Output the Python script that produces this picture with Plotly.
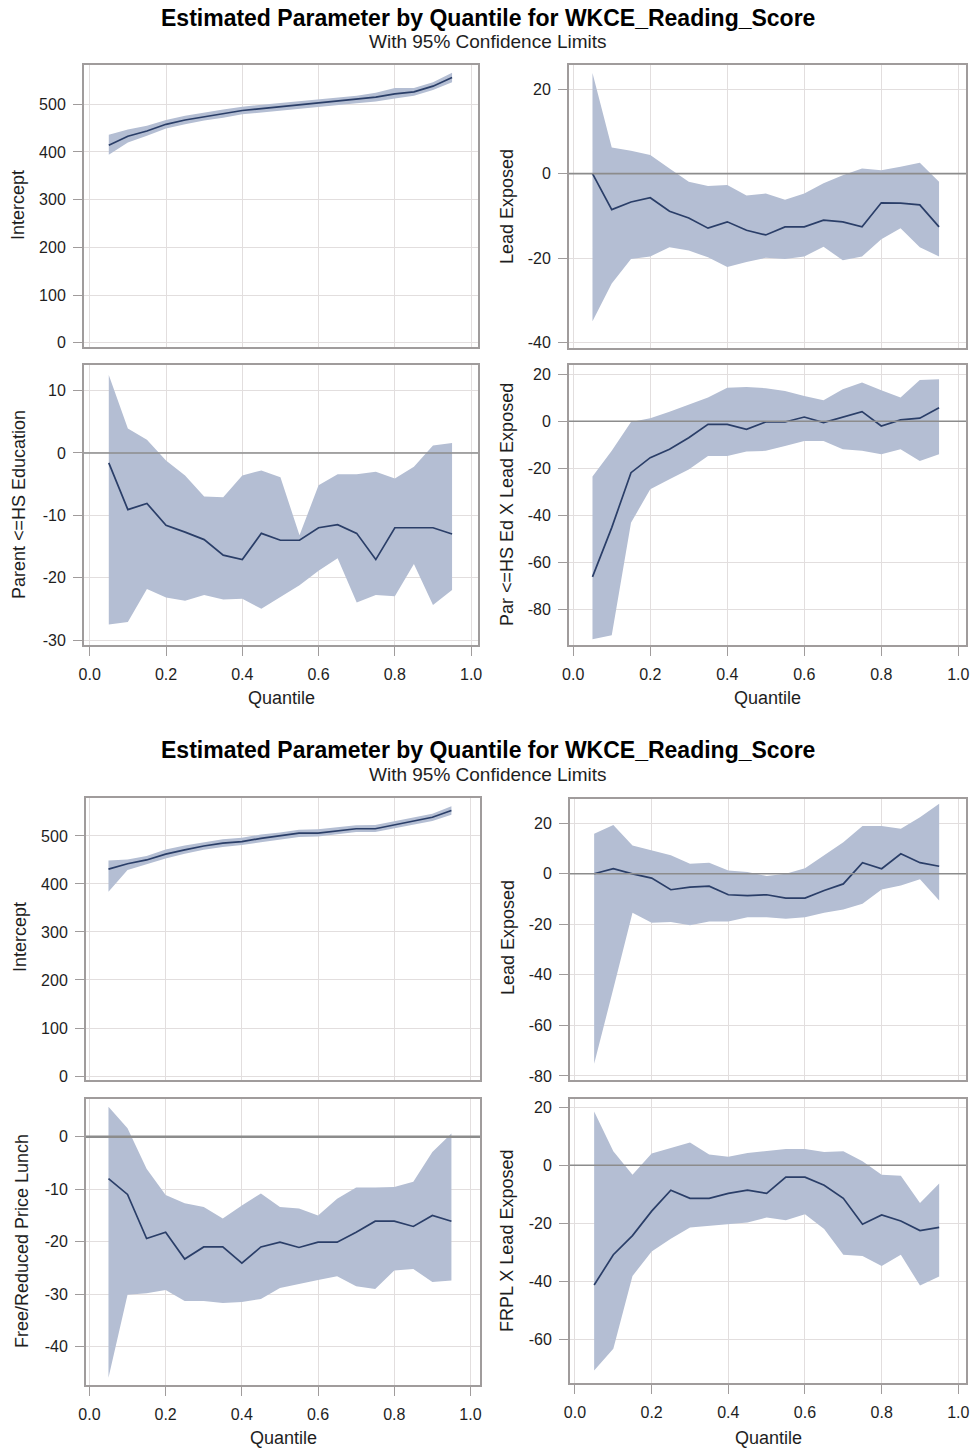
import plotly.graph_objects as go

W, H = 973, 1450

quantiles = [0.05, 0.10, 0.15, 0.20, 0.25, 0.30, 0.35, 0.40, 0.45, 0.50,
             0.55, 0.60, 0.65, 0.70, 0.75, 0.80, 0.85, 0.90, 0.95]

# ---- Figure 1 ----
f1_int_est = [414, 433, 444, 458, 467, 474, 480, 487, 491, 495, 499, 503, 506, 510, 515, 522, 526, 538, 556]
f1_int_lo = [394, 420, 434, 449, 458, 466, 472, 479, 483, 487, 491, 495, 498, 502, 506, 512, 518, 530, 546]
f1_int_hi = [436, 447, 455, 467, 476, 483, 489, 495, 499, 503, 507, 511, 514, 518, 524, 534, 534, 546, 566]

f1_lead_est = [0, -8.5, -6.7, -5.7, -8.9, -10.5, -12.9, -11.4, -13.4, -14.5, -12.6, -12.6, -11.0, -11.4, -12.6, -6.9, -7.0, -7.4, -12.6]
f1_lead_hi = [23.8, 6.2, 5.4, 4.4, 1.2, -1.9, -2.9, -2.7, -5.2, -4.7, -6.2, -4.7, -2.3, -0.4, 1.2, 0.8, 1.6, 2.6, -1.9]
f1_lead_lo = [-34.9, -26.0, -20.2, -19.6, -17.4, -18.2, -19.8, -22.1, -20.9, -19.9, -20.2, -19.6, -17.3, -20.5, -19.6, -15.5, -12.9, -17.4, -19.6]

f1_par_est = [-1.6, -9.1, -8.1, -11.6, -12.7, -13.9, -16.4, -17.1, -12.9, -14.0, -14.0, -12.0, -11.5, -12.9, -17.1, -12.0, -12.0, -12.0, -13.0]
f1_par_hi = [12.5, 3.9, 2.1, -1.2, -3.6, -7.0, -7.1, -3.6, -2.8, -3.9, -13.2, -5.2, -3.4, -3.4, -3.0, -4.1, -2.2, 1.2, 1.6]
f1_par_lo = [-27.5, -27.1, -21.8, -23.2, -23.7, -22.8, -23.5, -23.4, -25.0, -23.1, -21.2, -18.9, -16.9, -24.0, -22.8, -23.0, -17.8, -24.4, -22.0]

f1_int_x_est = [-66.3, -45.3, -21.9, -15.5, -11.9, -7.0, -1.3, -1.3, -3.4, -0.3, -0.3, 1.8, -0.6, 1.6, 4.1, -2.0, 0.6, 1.3, 5.8]
f1_int_x_hi = [-23.5, -12.6, -0.3, 1.3, 4.1, 7.2, 10.1, 14.3, 14.6, 14.1, 12.9, 10.8, 8.9, 13.6, 16.5, 13.2, 10.1, 17.6, 17.9]
f1_int_x_lo = [-92.9, -91.1, -43.2, -29.0, -24.7, -20.5, -14.8, -14.8, -12.9, -12.6, -10.5, -8.4, -8.4, -11.9, -12.6, -14.1, -11.9, -16.9, -14.1]

# ---- Figure 2 ----
f2_int_est = [431, 442, 450, 462, 471, 479, 485, 488, 495, 500, 506, 506, 511, 515, 515, 523, 530, 539, 553]
f2_int_lo = [384, 429, 441, 453, 463, 471, 477, 481, 487, 493, 498, 499, 504, 508, 508, 516, 523, 531, 544]
f2_int_hi = [449, 451, 458, 472, 480, 487, 493, 496, 503, 507, 513, 514, 518, 522, 523, 531, 538, 546, 562]

f2_lead_est = [0, 2.0, 0, -1.7, -6.3, -5.3, -4.9, -8.3, -8.6, -8.3, -9.6, -9.6, -6.6, -4.0, 4.4, 2.0, 7.9, 4.4, 3.0]
f2_lead_hi = [15.8, 19.3, 11.2, 9.2, 7.3, 4.0, 4.4, 1.3, 0.7, -0.9, 0, 2.2, 7.3, 12.5, 18.9, 18.9, 17.8, 22.4, 27.7]
f2_lead_lo = [-75.2, -45.5, -15.4, -19.4, -19.1, -20.4, -18.9, -18.9, -17.2, -17.2, -17.8, -17.2, -15.4, -14.1, -11.9, -6.2, -4.6, -2.2, -10.6]

f2_frpl_est = [-8.0, -11.0, -19.4, -18.2, -23.3, -21.0, -21.0, -24.1, -21.0, -20.1, -21.1, -20.1, -20.1, -18.2, -16.1, -16.1, -17.1, -15.0, -16.1]
f2_frpl_hi = [5.7, 1.6, -6.1, -11.1, -12.7, -13.4, -15.6, -13.1, -10.8, -13.4, -13.7, -15.0, -11.8, -9.7, -9.7, -9.6, -8.6, -2.9, 0.6]
f2_frpl_lo = [-45.9, -30.1, -29.8, -29.2, -31.3, -31.3, -31.7, -31.5, -30.9, -28.8, -28.0, -27.3, -26.6, -28.5, -29.0, -25.5, -25.2, -27.7, -27.4]

f2_frpl_x_est = [-41.2, -30.8, -24.2, -15.8, -8.6, -11.4, -11.4, -9.7, -8.6, -9.7, -4.1, -4.1, -6.9, -11.4, -20.3, -17.1, -19.2, -22.5, -21.4]
f2_frpl_x_hi = [18.5, 4.8, -3.3, 4.0, 5.9, 7.8, 3.7, 2.9, 4.2, 4.8, 5.6, 5.6, 4.5, 4.8, 1.4, -3.3, -3.6, -13.0, -6.3]
f2_frpl_x_lo = [-70.6, -63.1, -38.1, -29.7, -25.3, -21.4, -20.8, -20.3, -19.7, -18.0, -18.9, -16.9, -21.9, -30.8, -31.2, -34.7, -30.8, -41.4, -38.3]

x_ticks = [0.0, 0.2, 0.4, 0.6, 0.8, 1.0]
x_tick_labels = ["0.0", "0.2", "0.4", "0.6", "0.8", "1.0"]

title_text = "Estimated Parameter by Quantile for WKCE_Reading_Score"
subtitle_text = "With 95% Confidence Limits"

panels = [
    (f1_int_est, f1_int_lo, f1_int_hi, "Intercept", [0, 100, 200, 300, 400, 500],
     (84, 478, 65, 347), [-9, 582.4], [-0.015, 1.018], False, 0, (18, 205)),
    (f1_lead_est, f1_lead_lo, f1_lead_hi, "Lead Exposed", [-40, -20, 0, 20],
     (569, 966, 65, 348), [-41.25, 25.7], [-0.011, 1.02], False, 1.6, (507, 206)),
    (f1_par_est, f1_par_lo, f1_par_hi, "Parent <=HS Education", [-30, -20, -10, 0, 10],
     (84, 478, 365, 645), [-30.8, 14.1], [-0.015, 1.018], True, 1.6, (19, 505)),
    (f1_int_x_est, f1_int_x_lo, f1_int_x_hi, "Par <=HS Ed X Lead Exposed", [-80, -60, -40, -20, 0, 20],
     (569, 966, 365, 645), [-95.3, 23.96], [-0.011, 1.02], True, 1.6, (507, 504)),
    (f2_int_est, f2_int_lo, f2_int_hi, "Intercept", [0, 100, 200, 300, 400, 500],
     (86, 480, 798, 1080), [-8.3, 579], [-0.009, 1.025], False, 0, (20, 937)),
    (f2_lead_est, f2_lead_lo, f2_lead_hi, "Lead Exposed", [-80, -60, -40, -20, 0, 20],
     (570, 966, 799, 1080), [-81.6, 29.6], [-0.013, 1.02], False, 1.6, (508, 938)),
    (f2_frpl_est, f2_frpl_lo, f2_frpl_hi, "Free/Reduced Price Lunch", [-40, -30, -20, -10, 0],
     (86, 480, 1099, 1385), [-47.3, 7.18], [-0.009, 1.025], True, 2.6, (22, 1241)),
    (f2_frpl_x_est, f2_frpl_x_lo, f2_frpl_x_hi, "FRPL X Lead Exposed", [-60, -40, -20, 0, 20],
     (570, 966, 1099, 1383), [-74.9, 22.77], [-0.013, 1.02], True, 1.6, (507, 1241)),
]

BAND = "rgb(180,190,211)"
LINE = "rgb(42,62,104)"
GRID = "rgb(226,222,222)"
FRAME = "rgb(160,156,156)"
REF = "rgb(140,140,140)"
TXT = "rgb(30,30,30)"
FONT = "Liberation Sans, Arial, sans-serif"

fig = go.Figure()
layout = dict(
    width=W, height=H, margin=dict(l=0, r=0, t=0, b=0, autoexpand=False),
    paper_bgcolor="white", plot_bgcolor="white", showlegend=False,
    font=dict(family=FONT, color=TXT, size=16),
)
annotations = []
shapes = []

for i, (est, lo, hi, ylab, yt, rect, yr, xr, showx, ref_w, ypos) in enumerate(panels):
    n = i + 1
    xa = "x" if n == 1 else f"x{n}"
    ya = "y" if n == 1 else f"y{n}"
    x0, x1, y0, y1 = rect
    fig.add_trace(go.Scatter(
        x=quantiles + quantiles[::-1], y=hi + lo[::-1], fill="toself",
        fillcolor=BAND, line=dict(width=0), mode="lines", hoverinfo="skip",
        xaxis=xa, yaxis=ya))
    fig.add_trace(go.Scatter(
        x=quantiles, y=est, mode="lines", line=dict(color=LINE, width=1.7),
        xaxis=xa, yaxis=ya))
    layout[f"xaxis{n if n > 1 else ''}"] = dict(
        domain=[x0 / W, x1 / W], anchor=ya, range=xr,
        tickvals=x_ticks, ticktext=x_tick_labels, showticklabels=showx,
        ticks="outside" if showx else "", ticklen=9, tickcolor=FRAME,
        ticklabelstandoff=5,
        showgrid=True, gridcolor=GRID, gridwidth=1.3, zeroline=False,
        showline=True, mirror=True, linecolor=FRAME, linewidth=2,
        tickfont=dict(size=16, color=TXT, family=FONT),
    )
    layout[f"yaxis{n if n > 1 else ''}"] = dict(
        domain=[1 - y1 / H, 1 - y0 / H], anchor=xa, range=yr,
        tickvals=yt, ticktext=[str(v) for v in yt],
        ticks="outside", ticklen=9, tickcolor=FRAME,
        ticklabelstandoff=4,
        showgrid=True, gridcolor=GRID, gridwidth=1.3, zeroline=False,
        showline=True, mirror=True, linecolor=FRAME, linewidth=2,
        tickfont=dict(size=16, color=TXT, family=FONT),
    )
    if ref_w:
        shapes.append(dict(type="line", xref=f"{xa} domain", yref=ya,
                           x0=0, x1=1, y0=0, y1=0, layer="above",
                           line=dict(color=REF, width=ref_w)))
    annotations.append(dict(
        text=ylab, textangle=-90, xref="paper", yref="paper",
        x=ypos[0] / W, y=1 - ypos[1] / H, xanchor="center", yanchor="middle",
        showarrow=False, font=dict(size=18, color=TXT, family=FONT)))
    if showx:
        annotations.append(dict(
            text="Quantile", xref="paper", yref="paper",
            x=((x0 + x1) / 2) / W, y=1 - (698 if n <= 4 else 1438) / H,
            xanchor="center", yanchor="middle", showarrow=False,
            font=dict(size=18, color=TXT, family=FONT)))

for ty, sy in [(18, 42), (750, 775)]:
    annotations.append(dict(
        text="<b>" + title_text + "</b>", xref="paper", yref="paper",
        x=0.502, y=1 - ty / H, xanchor="center", yanchor="middle", showarrow=False,
        font=dict(size=23, color="black", family=FONT)))
    annotations.append(dict(
        text=subtitle_text, xref="paper", yref="paper",
        x=0.502, y=1 - sy / H, xanchor="center", yanchor="middle", showarrow=False,
        font=dict(size=19, color=TXT, family=FONT)))

layout["annotations"] = annotations
layout["shapes"] = shapes
fig.update_layout(**layout)
fig.write_html("out.html", config={"displayModeBar": False},
               post_script="document.body.style.margin='0';document.body.style.overflow='hidden';")
